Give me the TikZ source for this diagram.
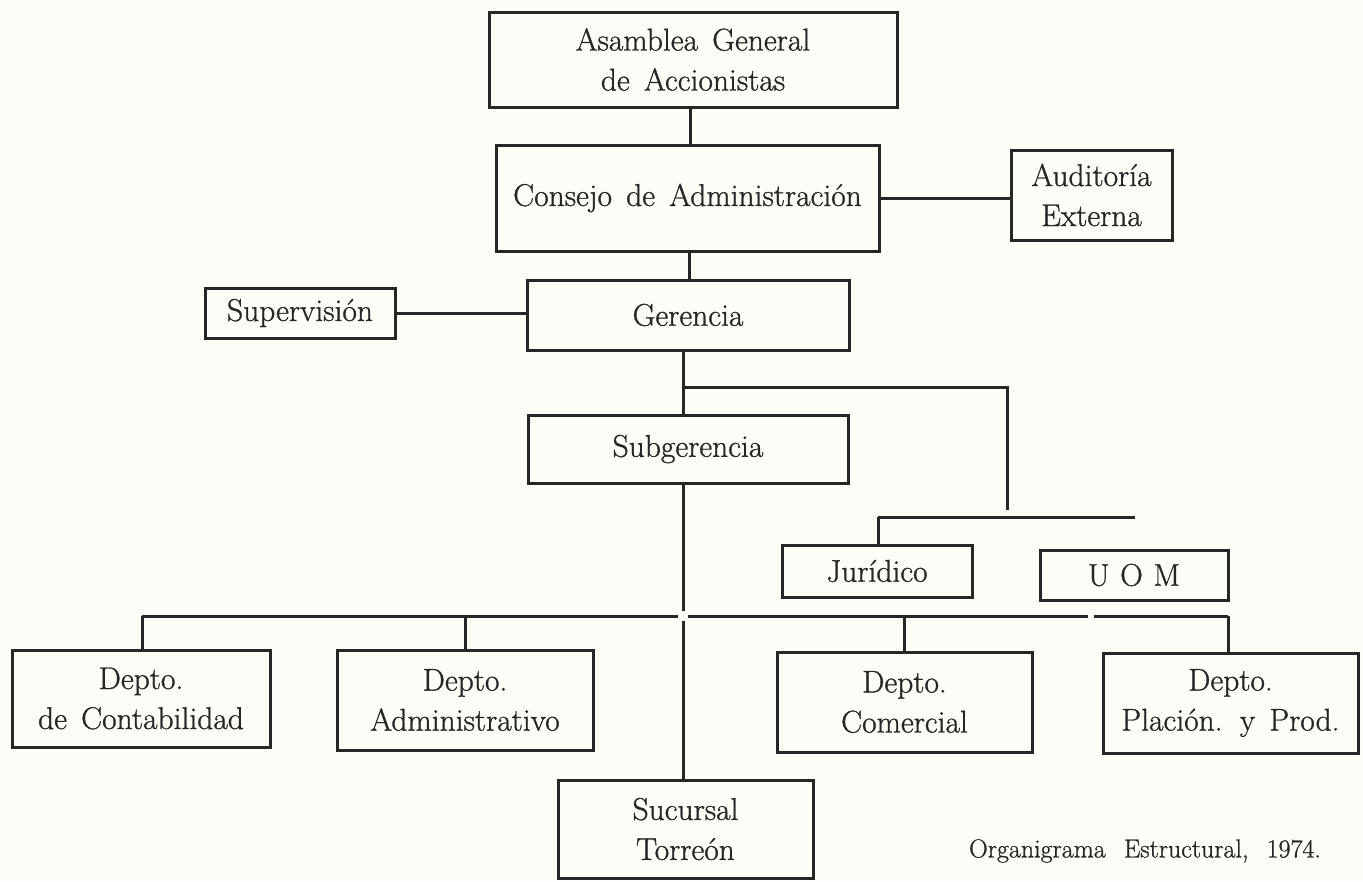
\documentclass[tikz,border=0pt]{standalone}
\usepackage{fontspec}
\newfontfamily\orgface{Latin Modern Roman}[FakeBold=0.9]
\definecolor{paper}{RGB}{253,252,247}
\definecolor{ink}{RGB}{38,38,36}
\newcommand\orgfont{\orgface\fontsize{31.5}{40}\selectfont\spaceskip=0.45em\relax}
\newcommand\capfont{\orgface\fontsize{26}{30}\selectfont\spaceskip=0.7em\relax}
\tikzset{
  orgbox/.style={draw=ink, text=ink, line width=3.0pt, inner sep=0pt, align=center, rectangle,
    font=\orgfont},
  conn/.style={draw=ink, line width=3.0pt},
  captxt/.style={text=ink, inner sep=0pt, font=\capfont}
}
\begin{document}
\begin{tikzpicture}[x=1pt,y=-1pt]
\fill[paper] (0,0) rectangle (1363,881);
\useasboundingbox (0,0) rectangle (1363,881);

% boxes
\node[orgbox, minimum width=408pt, minimum height=95pt] (asam) at (693,59.5) {Asamblea General\\de Accionistas};
\node[orgbox, minimum width=383pt, minimum height=106pt] (cons) at (687.5,198) {Consejo de Administración};
\node[orgbox, minimum width=161pt, minimum height=90pt] (aud) at (1091.5,195) {Auditoría\\Externa};
\node[orgbox, minimum width=190pt, minimum height=50pt] (sup) at (300,313) {Supervisión};
\node[orgbox, minimum width=322pt, minimum height=70pt] (ger) at (688,315) {Gerencia};
\node[orgbox, minimum width=320pt, minimum height=68pt] (sub) at (688,449) {Subgerencia};
\node[orgbox, minimum width=190pt, minimum height=52pt] (jur) at (877,571) {Jurídico};
\node[orgbox, minimum width=188pt, minimum height=50pt] (uom) at (1134,575) {U\,\,O\,\,M};
\node[orgbox, minimum width=258pt, minimum height=97pt] (cont) at (141,698.5) {Depto.\\de Contabilidad};
\node[orgbox, minimum width=256pt, minimum height=100pt] (adm) at (465,700) {Depto.\\Administrativo};
\node[orgbox, minimum width=255pt, minimum height=100pt] (com) at (904.5,702) {Depto.\\Comercial};
\node[orgbox, minimum width=255pt, minimum height=100pt] (plac) at (1230.5,703) {Depto.\\Plación. y Prod.};
\node[orgbox, minimum width=255pt, minimum height=98pt] (suc) at (685.5,829) {Sucursal\\Torreón};

\node[captxt] (cap) at (1145,851) {Organigrama Estructural, 1974.};

% helper coordinates
\coordinate (t1) at (690,0);
\coordinate (t2) at (689,0);
\coordinate (t3) at (683,0);
\coordinate (j1) at (683,387);
\coordinate (j2) at (1007,387);
\coordinate (j3) at (1007,510);
\coordinate (h2l) at (878,517);
\coordinate (h2r) at (1135,517);
\coordinate (b0) at (142,616);
\coordinate (b1) at (678,616);
\coordinate (b2) at (688,616);
\coordinate (b3) at (1088,616);
\coordinate (b4) at (1094,616);
\coordinate (b5) at (1228,616);
\coordinate (k1) at (683,611);
\coordinate (k2) at (683,621);

% connectors
\draw[conn] (asam.south -| t1) -- (cons.north -| t1);
\draw[conn] (cons.east) -- (cons.east -| aud.west);
\draw[conn] (cons.south -| t2) -- (ger.north -| t2);
\draw[conn] (sup.east) -- (sup.east -| ger.west);
\draw[conn] (ger.south -| t3) -- (sub.north -| t3);
\draw[conn] (j1) -- (j2) -- (j3);
\draw[conn] (h2l) -- (h2r);
\draw[conn] (h2l) -- (h2l |- jur.north);
\draw[conn] (sub.south -| t3) -- (k1);
\draw[conn] (k2) -- (suc.north -| t3);
\draw[conn] (b0) -- (b1);
\draw[conn] (b2) -- (b3);
\draw[conn] (b4) -- (b5);
\draw[conn] (b0) -- (b0 |- cont.north);
\draw[conn] (adm.north |- b0) -- (adm.north);
\draw[conn] (com.north |- b0) -- (com.north);
\draw[conn] (b5) -- (b5 |- plac.north);
\end{tikzpicture}
\end{document}
